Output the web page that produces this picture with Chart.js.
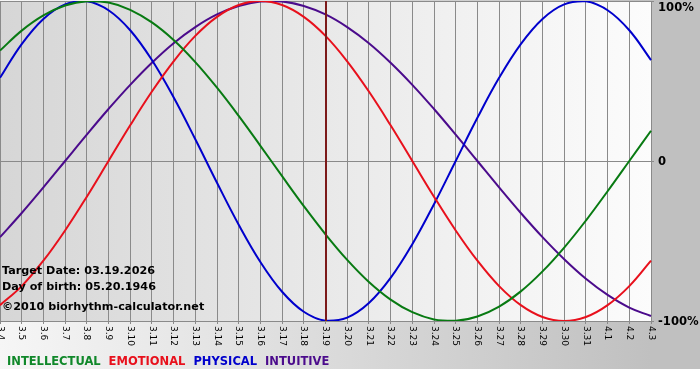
<!DOCTYPE html>
<html>
<head>
<meta charset="utf-8">
<script src="https://cdn.jsdelivr.net/npm/chart.js@4/dist/chart.umd.min.js"></script>
<style>
  html, body { margin: 0; padding: 0; background: #ffffff; }
  #wrap { width: 700px; height: 380px; position: relative; }
</style>
</head>
<body>
<div id="wrap"><canvas id="c" width="700" height="380"></canvas></div>
<script>
// ---- data ----
const dayLabels = ["3.4","3.5","3.6","3.7","3.8","3.9","3.10","3.11","3.12","3.13","3.14","3.15","3.16","3.17","3.18","3.19","3.20","3.21","3.22","3.23","3.24","3.25","3.26","3.27","3.28","3.29","3.30","3.31","4.1","4.2","4.3"];
const intellectual = [0.69,0.815,0.91,0.972,0.999,0.99,0.945,0.866,0.756,0.618,0.458,0.282,0.095,-0.095,-0.282,-0.458,-0.618,-0.756,-0.866,-0.945,-0.99,-0.999,-0.972,-0.91,-0.815,-0.69,-0.541,-0.372,-0.189,0,0.189];
const emotional = [-0.901,-0.782,-0.623,-0.434,-0.223,0,0.223,0.434,0.623,0.782,0.901,0.975,1,0.975,0.901,0.782,0.623,0.434,0.223,0,-0.223,-0.434,-0.623,-0.782,-0.901,-0.975,-1,-0.975,-0.901,-0.782,-0.623];
const physical = [0.52,0.731,0.888,0.979,0.998,0.942,0.817,0.631,0.398,0.136,-0.136,-0.398,-0.631,-0.817,-0.942,-0.998,-0.979,-0.888,-0.731,-0.52,-0.27,0,0.27,0.52,0.731,0.888,0.979,0.998,0.942,0.817,0.631];
const intuitive = [-0.476,-0.325,-0.165,0,0.165,0.325,0.476,0.614,0.736,0.837,0.916,0.969,0.997,0.997,0.969,0.916,0.837,0.736,0.614,0.476,0.325,0.165,0,-0.165,-0.325,-0.476,-0.614,-0.736,-0.837,-0.916,-0.969];
const seriesNames = ["INTELLECTUAL","EMOTIONAL","PHYSICAL","INTUITIVE"];
const yTickValues = [1, 0, -1];
const yTickLabels = ["100%", "0", "-100%"];
const targetLabel = "3.19";
const infoLines = ["Target Date: 03.19.2026", "Day of birth: 05.20.1946", "\u00A92010 biorhythm-calculator.net"];

const colors = ["#087a12", "#e8101c", "#0000cc", "#4b0b8c"];
const legendColors = ["#10882a", "#e8101c", "#0000cc", "#4b0b8c"];

const bgPlugin = {
  id: 'bg',
  beforeDraw(chart) {
    const ctx = chart.ctx, a = chart.chartArea;
    ctx.save();
    ctx.fillStyle = '#ffffff';
    ctx.fillRect(0, 0, 700, 380);
    const g = ctx.createLinearGradient(0, 0, a.right, 0);
    g.addColorStop(0, '#f6f6f6');
    g.addColorStop(1, '#c0c0c0');
    ctx.fillStyle = g;
    ctx.fillRect(0, 0, 700, 369);
    const g2 = ctx.createLinearGradient(a.left, 0, a.right, 0);
    g2.addColorStop(0, '#d6d6d6');
    g2.addColorStop(1, '#fcfcfc');
    ctx.fillStyle = g2;
    ctx.fillRect(a.left, a.top, a.right - a.left, a.bottom - a.top);
    ctx.restore();
  },
  afterDatasetsDraw(chart) {
    const ctx = chart.ctx, a = chart.chartArea;
    const xs = chart.scales.x;
    ctx.save();
    // target date marker
    const tx = Math.round(xs.getPixelForValue(dayLabels.indexOf(targetLabel)));
    ctx.strokeStyle = '#7c1a1a';
    ctx.lineWidth = 2;
    ctx.beginPath();
    ctx.moveTo(tx, a.top);
    ctx.lineTo(tx, a.bottom);
    ctx.stroke();
    // info text
    ctx.fillStyle = '#000000';
    ctx.font = 'bold 11.2px "DejaVu Sans", Verdana, sans-serif';
    ctx.textBaseline = 'alphabetic';
    ctx.textAlign = 'left';
    ctx.fillText(infoLines[0], 2, 274);
    ctx.fillText(infoLines[1], 2, 290);
    ctx.fillText(infoLines[2], 2, 310);
    ctx.restore();
  },
  afterDraw(chart) {
    const ctx = chart.ctx, a = chart.chartArea;
    const xs = chart.scales.x, ys = chart.scales.y;
    ctx.save();
    // rotated x labels (clockwise)
    ctx.fillStyle = '#000000';
    ctx.font = '9px "DejaVu Sans", Verdana, sans-serif';
    ctx.textAlign = 'left';
    ctx.textBaseline = 'middle';
    dayLabels.forEach((lab, i) => {
      const x = xs.getPixelForValue(i);
      ctx.save();
      ctx.translate(x, a.bottom + 5);
      ctx.rotate(Math.PI / 2);
      ctx.fillText(lab, 0, 0);
      ctx.restore();
    });
    // right y labels
    ctx.font = 'bold 11.6px "DejaVu Sans", Verdana, sans-serif';
    ctx.textBaseline = 'middle';
    yTickValues.forEach((v, i) => {
      let y = ys.getPixelForValue(v);
      if (y < 7) y = 7;
      ctx.fillText(yTickLabels[i], a.right + 7, y + 1);
    });
    // legend
    ctx.font = 'bold 11.5px "DejaVu Sans", Verdana, sans-serif';
    ctx.textBaseline = 'alphabetic';
    let lx = 7;
    seriesNames.forEach((n, i) => {
      ctx.fillStyle = legendColors[i];
      ctx.fillText(n, lx, 365);
      lx += ctx.measureText(n).width + 8;
    });
    ctx.restore();
  }
};

const seriesData = [intellectual, emotional, physical, intuitive];

new Chart(document.getElementById('c'), {
  type: 'line',
  data: {
    labels: dayLabels,
    datasets: seriesNames.map((n, i) => ({
      label: n,
      data: seriesData[i],
      borderColor: colors[i],
      borderWidth: 2,
      pointRadius: 0,
      tension: 0.4,
      fill: false
    }))
  },
  options: {
    responsive: false,
    animation: false,
    events: [],
    layout: { padding: { left: 0, top: 1, right: 46, bottom: 56 } },
    plugins: { legend: { display: false }, tooltip: { enabled: false } },
    scales: {
      x: {
        type: 'category',
        offset: false,
        border: { display: false },
        grid: { color: '#8a8a8a', lineWidth: 1, drawTicks: true, tickLength: 3, tickColor: '#8a8a8a' },
        ticks: { display: false }
      },
      y: {
        position: 'right',
        min: -1, max: 1,
        border: { display: false },
        grid: { color: '#8a8a8a', lineWidth: 1, drawTicks: true, tickLength: 3, tickColor: '#8a8a8a' },
        ticks: { display: false, stepSize: 1 }
      }
    }
  },
  plugins: [bgPlugin]
});
</script>
</body>
</html>
